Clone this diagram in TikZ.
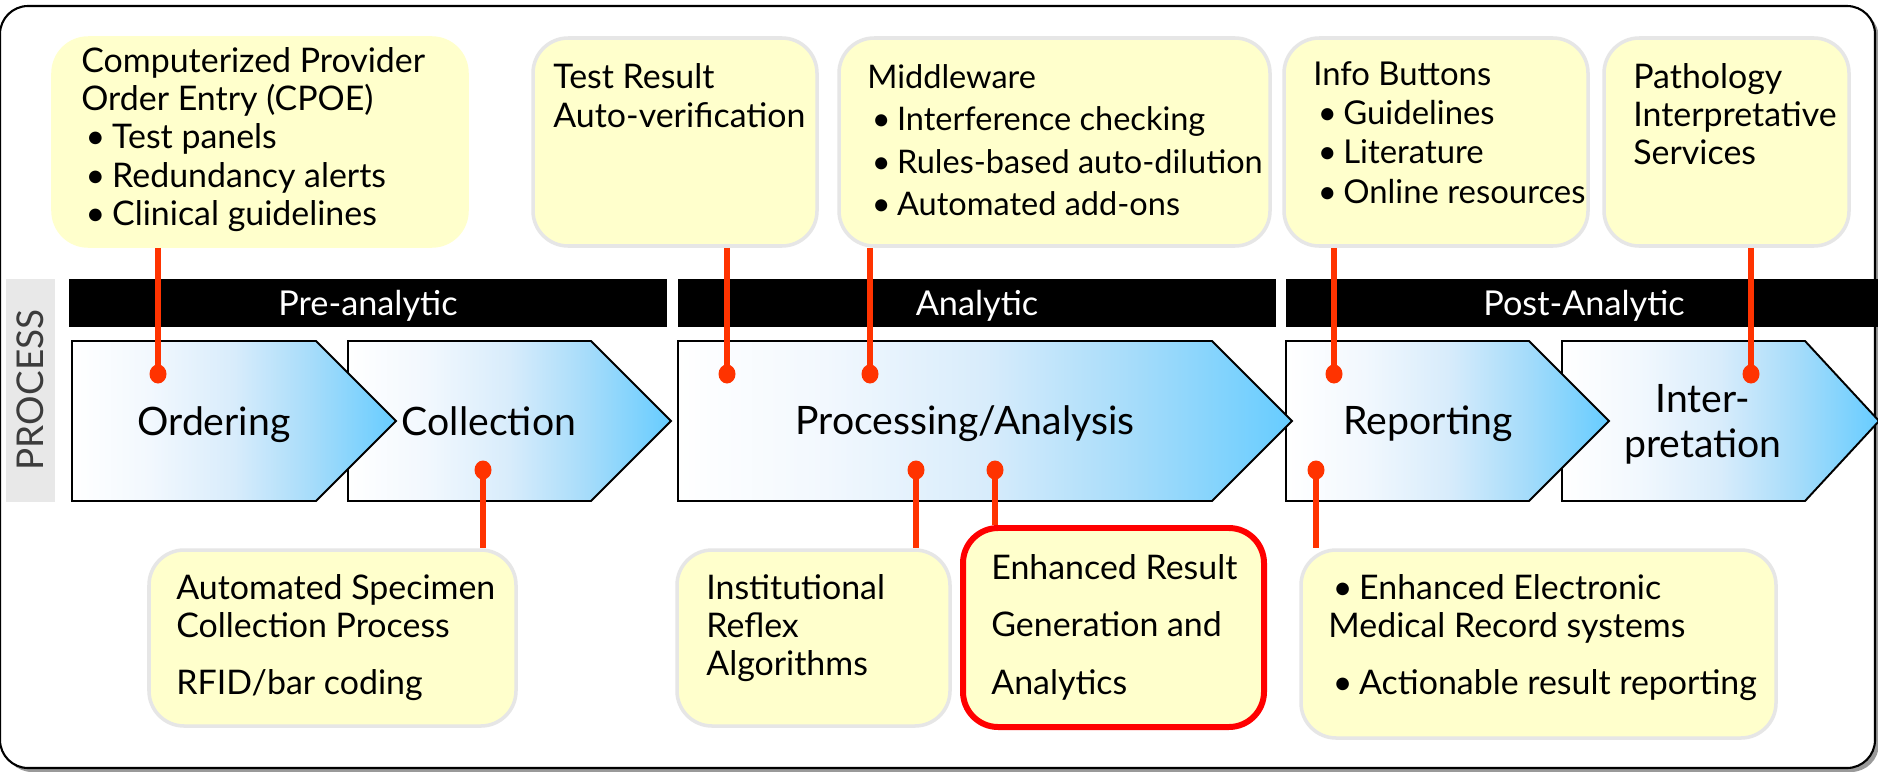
\documentclass[tikz,border=0pt]{standalone}
\usepackage{fontspec}
\setmainfont{Lato}
\usetikzlibrary{fit}

\definecolor{boxyellow}{HTML}{FFFFCC}
\definecolor{boxgray}{HTML}{E6E6E6}
\definecolor{linkred}{HTML}{FF3300}
\definecolor{hilite}{HTML}{FF0000}
\definecolor{procbg}{HTML}{E8E8E8}
\definecolor{proctext}{HTML}{3C3C3C}
\definecolor{frameshadow}{HTML}{9A9A9A}
\definecolor{chA}{HTML}{F2F8FE}
\definecolor{chB}{HTML}{D8ECFB}
\definecolor{chC}{HTML}{A6DCFA}
\definecolor{chD}{HTML}{66CCFF}

% white-to-blue fill of the process chevrons
\pgfdeclarehorizontalshading{chevshade}{100bp}{color(0bp)=(white); color(25bp)=(white); color(37bp)=(chA); color(50bp)=(chB); color(62bp)=(chC); color(75bp)=(chD); color(100bp)=(chD)}

\newcommand{\itembul}{\hspace*{2.5pt}\textbullet\hspace{0.2em}}

\begin{document}
\begin{tikzpicture}[x=0.02cm,y=-0.02cm,
  ybox/.style={fill=boxyellow, draw=boxgray, line width=2pt, rounded corners=20pt, inner sep=0pt},
  hibox/.style={fill=boxyellow, draw=hilite, line width=3.4pt, rounded corners=20pt, inner sep=0pt},
  btext/.style={anchor=north west, align=left, inner sep=0pt, text=black},
  phase/.style={fill=black, inner sep=0pt},
  phasetext/.style={anchor=base, text=white, inner sep=0pt, font=\fontsize{19.5}{23}\selectfont},
  chev/.style={draw=black, line width=1.1pt, shade, shading=chevshade},
  chevtext/.style={anchor=base, inner sep=0pt, font=\fontsize{22.3}{25.6}\selectfont, align=center},
  conn/.style={draw=linkred, line width=3.2pt},
  dot/.style={fill=linkred}
]
\useasboundingbox (0,0) rectangle (1878,771);

% outer frame with its shadow
\fill[frameshadow, rounded corners=16pt] (4,10) rectangle (1879,772);
\draw[line width=1.2pt, fill=white, rounded corners=16pt] (0,6) rectangle (1875,768);

% side label
\node[fill=procbg, inner sep=0pt, fit={(6,279) (55,502)}] (procbox) {};
\node[rotate=90, text=proctext, inner sep=0pt, font=\fontsize{21}{24}\selectfont] (proclabel) at (30,390) {PROCESS};

% phase bars
\node[phase, fit={(69,279) (667,327)}] (preBar) {};
\node[phase, fit={(678,279) (1276,327)}] (anaBar) {};
\node[phase, fit={(1286,279) (1878,327)}] (postBar) {};
\node[phasetext] (preT) at (368,315) {Pre-analytic};
\node[phasetext] (anaT) at (977,315) {Analytic};
\node[phasetext] (postT) at (1584,315) {Post-Analytic};

% process chevrons (later ones overlap the next one's left edge)
\path[chev] (1562,341) -- (1805,341) -- (1879,421) -- (1805,501) -- (1562,501) -- cycle;
\path[chev] (1286,341) -- (1529,341) -- (1609,421) -- (1529,501) -- (1286,501) -- cycle;
\path[chev] (678,341) -- (1212,341) -- (1292,421) -- (1212,501) -- (678,501) -- cycle;
\path[chev] (348,341) -- (591,341) -- (671,421) -- (591,501) -- (348,501) -- cycle;
\path[chev] (72,341) -- (316,341) -- (396,421) -- (316,501) -- (72,501) -- cycle;

\node[chevtext] (ordering) at (214,435) {Ordering};
\node[chevtext] (collection) at (489,435) {Collection};
\node[chevtext] (processing) at (965,434) {Processing/Analysis};
\node[chevtext] (reporting) at (1428,434) {Reporting};
\node[chevtext] (interp) at (1703,457) {Inter-\\pretation};

% connection points on the chevrons
\coordinate (dOrd) at (158,374);
\coordinate (dCol) at (483,470);
\coordinate (dAuto) at (727,374);
\coordinate (dMid) at (870,374);
\coordinate (dRefl) at (916,470);
\coordinate (dEnh) at (995,470);
\coordinate (dInfo) at (1334,374);
\coordinate (dEmr) at (1316,470);
\coordinate (dPath) at (1751,374);

% top boxes
\node[ybox, draw=boxyellow, fit={(53,38) (467,246)}] (cpoe) {};
\node[ybox, fit={(533,38) (817,246)}] (autover) {};
\node[ybox, fit={(839,38) (1270,246)}] (middleware) {};
\node[ybox, fit={(1284,38) (1588,246)}] (infobtn) {};
\node[ybox, fit={(1604,38) (1849,246)}] (pathology) {};

% bottom boxes
\node[ybox, fit={(149,550) (516,726)}] (specimen) {};
\node[ybox, fit={(677,550) (950,726)}] (reflex) {};
\node[hibox, fit={(963,528) (1264,727)}] (enhanced) {};
\node[ybox, fit={(1301,550) (1776,738)}] (emr) {};

% connectors
\draw[conn] (cpoe.south -| dOrd) -- (dOrd);
\draw[conn] (dCol) -- (dCol |- specimen.north);
\draw[conn] (autover.south -| dAuto) -- (dAuto);
\draw[conn] (middleware.south -| dMid) -- (dMid);
\draw[conn] (dRefl) -- (dRefl |- reflex.north);
\draw[conn] (dEnh) -- (dEnh |- enhanced.north);
\draw[conn] (infobtn.south -| dInfo) -- (dInfo);
\draw[conn] (dEmr) -- (dEmr |- emr.north);
\draw[conn] (pathology.south -| dPath) -- (dPath);
\foreach \d in {dOrd,dCol,dAuto,dMid,dRefl,dEnh,dInfo,dEmr,dPath}
  \fill[dot] (\d) ellipse (8.5 and 9.5);

% box texts
\node[btext, font=\fontsize{19.3}{21.8}\selectfont] (cpoeT) at (81,47) {Computerized Provider\\Order Entry (CPOE)\\\itembul Test panels\\\itembul Redundancy alerts\\\itembul Clinical guidelines};
\node[btext, font=\fontsize{19.3}{22.2}\selectfont] (autoverT) at (553,63) {Test Result\\Auto-verification};
\node[btext, font=\fontsize{18.5}{24.2}\selectfont] (middlewareT) at (867,64) {Middleware\\\itembul Interference checking\\\itembul Rules-based auto-dilution\\\itembul Automated add-ons};
\node[btext, font=\fontsize{18.7}{22.4}\selectfont] (infobtnT) at (1313,61) {Info Buttons\\\itembul Guidelines\\\itembul Literature\\\itembul Online resources};
\node[btext, font=\fontsize{19.3}{21.6}\selectfont] (pathologyT) at (1633,63) {Pathology\\Interpretative\\Services};

\node[btext, font=\fontsize{19.3}{21.8}\selectfont] (specimenT) at (176,574) {Automated Specimen\\Collection Process\\[10.5pt]RFID/bar coding};
\node[btext, font=\fontsize{19.3}{21.8}\selectfont] (reflexT) at (706,574) {Institutional\\Reflex\\Algorithms};
\node[btext, font=\fontsize{19.3}{32.7}\selectfont] (enhancedT) at (991,554) {Enhanced Result\\Generation and\\Analytics};
\node[btext, font=\fontsize{19.3}{21.8}\selectfont] (emrT) at (1328,574) {\itembul Enhanced Electronic\\Medical Record systems\\[10.5pt]\itembul Actionable result reporting};
\end{tikzpicture}
\end{document}
